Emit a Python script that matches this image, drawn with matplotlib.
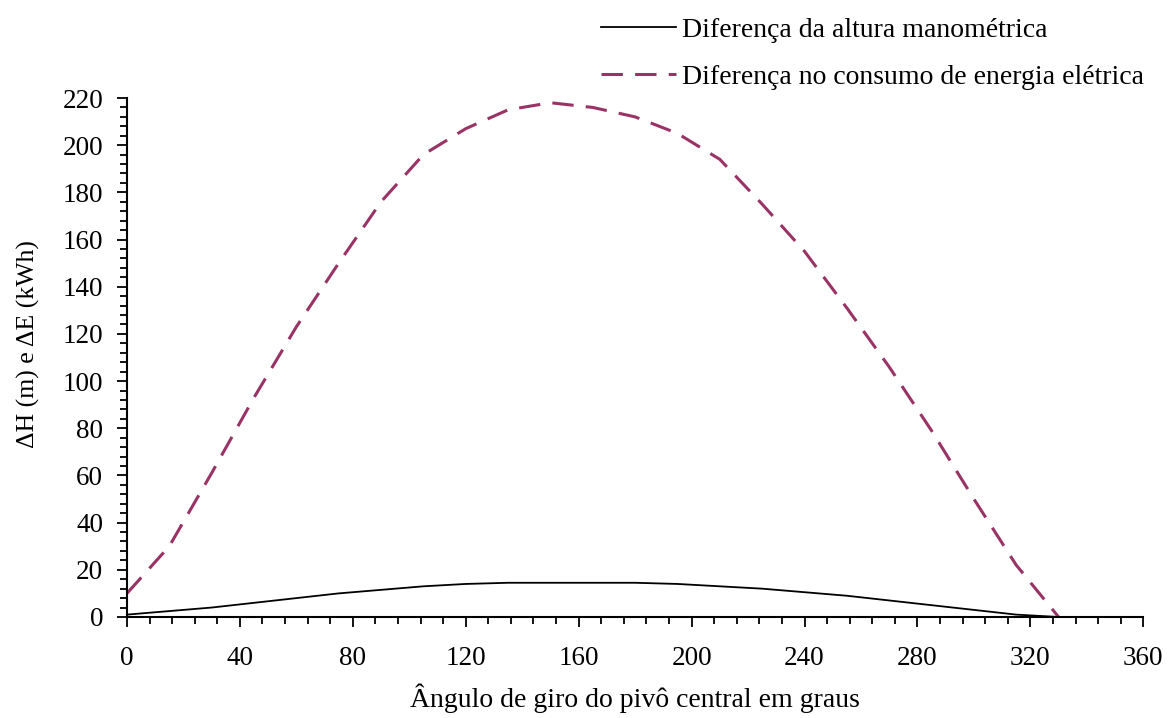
import matplotlib
matplotlib.use('Agg')
import matplotlib.pyplot as plt
from matplotlib.ticker import MultipleLocator
import numpy as np

# angle of the pivot (degrees)
angles = [0, 15, 30, 45, 60, 75, 90, 105, 120, 135, 150, 165,
          180, 195, 210, 225, 240, 255, 270, 285, 300, 315, 330]
# difference in manometric head (m)
delta_h = [1, 2.5, 4, 6, 8, 10, 11.5, 13, 14, 14.5, 14.5, 14.5,
           14.5, 14, 13, 12, 10.5, 9, 7, 5, 3, 1, 0]
# difference in electric energy consumption (kWh)
delta_e = [10, 30, 61, 93, 123, 150, 176, 196, 207, 215, 218, 216,
           212, 205, 194, 175, 155, 131, 106, 79, 50, 22, 0]

plt.rcParams['font.family'] = ['Liberation Serif', 'DejaVu Serif']

fig = plt.figure(figsize=(11.69, 7.18), dpi=100)
ax = fig.add_axes([0.1086, 0.1407, 0.8694, 0.7228])

ax.plot(angles, delta_h, color='black', linewidth=1.3,
        label='Diferença da altura manométrica')
ax.plot(angles, delta_e, color='#993366', linewidth=2.2, dashes=(7, 4),
        label='Diferença no consumo de energia elétrica')

ax.set_xlim(0, 360)
ax.set_ylim(0, 220)
ax.xaxis.set_major_locator(MultipleLocator(40))
ax.xaxis.set_minor_locator(MultipleLocator(8))
ax.yaxis.set_major_locator(MultipleLocator(20))
ax.yaxis.set_minor_locator(MultipleLocator(4))

for side in ['top', 'right']:
    ax.spines[side].set_visible(False)
for side in ['left', 'bottom']:
    ax.spines[side].set_linewidth(1.5)

ax.tick_params(axis='both', which='major', direction='out', length=7,
               width=1.3, labelsize=19.5)
ax.tick_params(axis='x', which='major', pad=14)
ax.tick_params(axis='y', which='major', pad=10)
ax.tick_params(axis='both', which='minor', direction='out', length=5,
               width=1.3)

ax.set_xlabel('Ângulo de giro do pivô central em graus', fontsize=20, labelpad=9)
ax.set_ylabel('ΔH (m) e ΔE (kWh)', fontsize=18.5)
ax.yaxis.set_label_coords(-0.086, 0.525)

fig.legend(loc='upper left', bbox_to_anchor=(0.505, 0.991), borderaxespad=0,
           frameon=False, fontsize=20, handlelength=2.7, handletextpad=0.2,
           labelspacing=0.78)

fig.savefig('out.png', dpi=100)
